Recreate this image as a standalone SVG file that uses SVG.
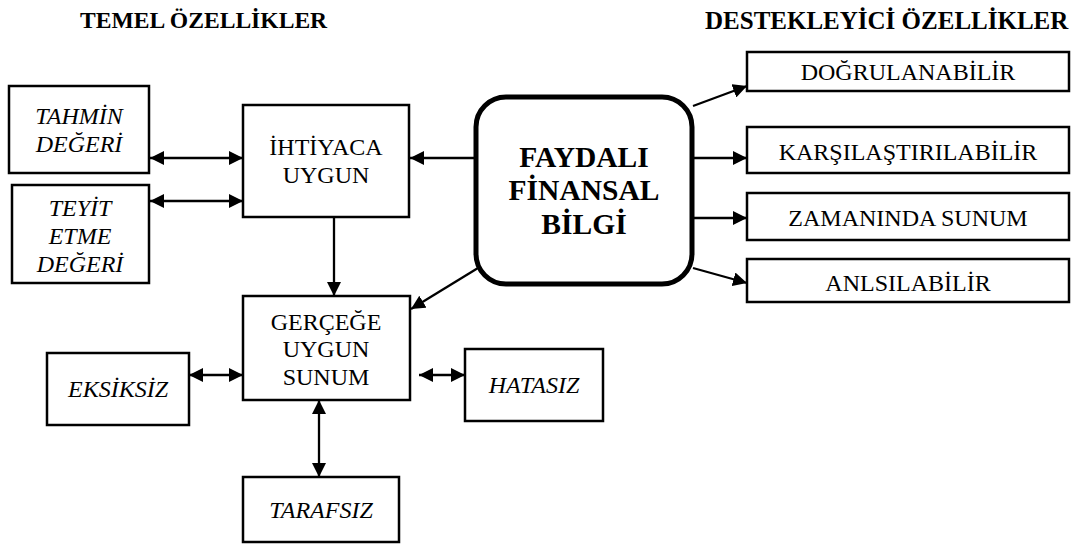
<svg xmlns="http://www.w3.org/2000/svg" width="1080" height="544" viewBox="0 0 1080 544">
<style>
.box{fill:#fff;stroke:#000;stroke-width:2.5}
.main{fill:#fff;stroke:#000;stroke-width:5}
.t{font-family:"Liberation Serif","Times New Roman",serif;font-size:24px;fill:#000;text-anchor:middle}
.i{font-style:italic}
.big{font-weight:bold;font-size:29.5px}
.title{font-family:"Liberation Serif","Times New Roman",serif;font-weight:bold;fill:#000}
.c line{stroke:#000;stroke-width:2.3;fill:none}
.one{marker-end:url(#ah)}
.two{marker-end:url(#ah);marker-start:url(#ah)}
</style>
<defs>
<marker id="ah" markerUnits="userSpaceOnUse" markerWidth="14" markerHeight="14" refX="14" refY="7" orient="auto-start-reverse" viewBox="0 0 14 14">
<path d="M0,0 L14,7 L0,14 Z" fill="#000"/>
</marker>
</defs>
<rect width="1080" height="544" fill="#fff"/>
<text class="title" x="80" y="28" style="font-size:23.6px">TEMEL ÖZELLİKLER</text>
<text class="title" x="705" y="29" style="font-size:25px">DESTEKLEYİCİ ÖZELLİKLER</text>

<g class="c" id="connectors">
<line class="two" x1="150" y1="158" x2="243" y2="158"/>
<line class="two" x1="150" y1="201" x2="243" y2="201"/>
<line class="one" x1="474" y1="158" x2="410" y2="158"/>
<line class="one" x1="334" y1="217" x2="334" y2="296"/>
<line class="one" x1="478" y1="268" x2="411" y2="309"/>
<line class="one" x1="693" y1="106" x2="747" y2="86"/>
<line class="one" x1="694" y1="158" x2="747" y2="158"/>
<line class="one" x1="694" y1="218" x2="747" y2="218"/>
<line class="one" x1="693" y1="268" x2="747" y2="283"/>
<line class="two" x1="189" y1="375" x2="243" y2="375"/>
<line class="two" x1="419" y1="375" x2="465" y2="375"/>
<line class="two" x1="319" y1="400" x2="319" y2="477"/>
</g>

<g id="tahmin">
<rect class="box" x="9" y="86" width="140" height="87"/>
<text class="t i" x="79" y="124">TAHMİN</text>
<text class="t i" x="79" y="152">DEĞERİ</text>
</g>
<g id="teyit">
<rect class="box" x="12" y="185" width="137" height="98"/>
<text class="t i" x="80" y="216">TEYİT</text>
<text class="t i" x="80" y="244">ETME</text>
<text class="t i" x="80" y="272">DEĞERİ</text>
</g>
<g id="ihtiyaca">
<rect class="box" x="243" y="105" width="166" height="112"/>
<text class="t" x="326" y="155">İHTİYACA</text>
<text class="t" x="326" y="183">UYGUN</text>
</g>
<g id="faydali">
<rect class="main" x="476" y="97" width="216" height="187" rx="30" ry="30"/>
<text class="t big" x="584" y="167">FAYDALI</text>
<text class="t big" x="584" y="200">FİNANSAL</text>
<text class="t big" x="584" y="234">BİLGİ</text>
</g>
<g id="dogrulanabilir">
<rect class="box" x="747" y="52" width="322" height="39"/>
<text class="t" x="908" y="80">DOĞRULANABİLİR</text>
</g>
<g id="karsilastirilabilir">
<rect class="box" x="747" y="127" width="322" height="46"/>
<text class="t" x="908" y="160">KARŞILAŞTIRILABİLİR</text>
</g>
<g id="zamaninda">
<rect class="box" x="747" y="193" width="322" height="47"/>
<text class="t" x="908" y="226">ZAMANINDA SUNUM</text>
</g>
<g id="anlsilabilir">
<rect class="box" x="747" y="259" width="322" height="43"/>
<text class="t" x="908" y="291">ANLSILABİLİR</text>
</g>
<g id="gercege">
<rect class="box" x="243" y="296" width="167" height="104"/>
<text class="t" x="326" y="330">GERÇEĞE</text>
<text class="t" x="326" y="357">UYGUN</text>
<text class="t" x="326" y="385">SUNUM</text>
</g>
<g id="eksiksiz">
<rect class="box" x="47" y="353" width="142" height="72"/>
<text class="t i" x="118" y="397">EKSİKSİZ</text>
</g>
<g id="hatasiz">
<rect class="box" x="465" y="349" width="138" height="72"/>
<text class="t i" x="534" y="393">HATASIZ</text>
</g>
<g id="tarafsiz">
<rect class="box" x="243" y="477" width="156" height="65"/>
<text class="t i" x="321" y="518">TARAFSIZ</text>
</g>
</svg>
